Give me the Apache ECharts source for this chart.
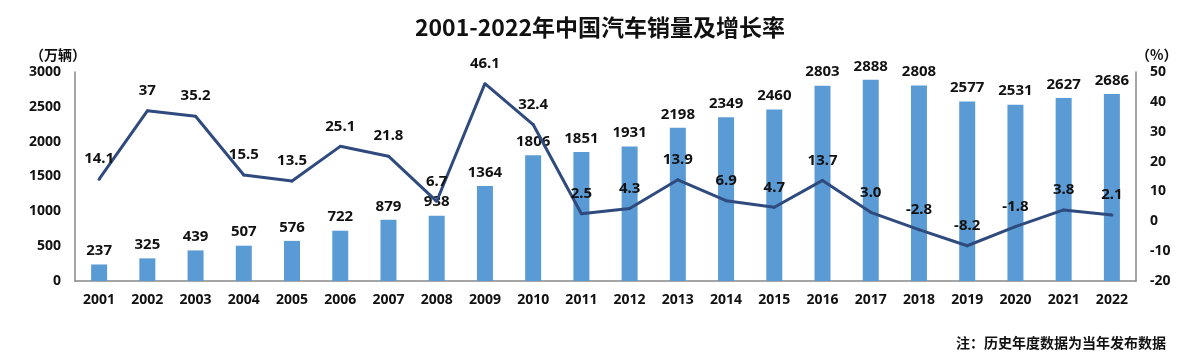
<!DOCTYPE html>
<html>
<head>
<meta charset="utf-8">
<script src="https://cdn.jsdelivr.net/npm/echarts@6/dist/echarts.min.js"></script>
<style>
html,body{margin:0;padding:0;background:#fff;}
#c{width:1200px;height:362px;}
</style>
</head>
<body>
<div id="c"></div>
<script>
var years = ['2001','2002','2003','2004','2005','2006','2007','2008','2009','2010','2011','2012','2013','2014','2015','2016','2017','2018','2019','2020','2021','2022'];
var sales = [237,325,439,507,576,722,879,938,1364,1806,1851,1931,2198,2349,2460,2803,2888,2808,2577,2531,2627,2686];
var growth = [14.1,37,35.2,15.5,13.5,25.1,21.8,6.7,46.1,32.4,2.5,4.3,13.9,6.9,4.7,13.7,3.0,-2.8,-8.2,-1.8,3.8,2.1];
var growthLabels = ['14.1','37','35.2','15.5','13.5','25.1','21.8','6.7','46.1','32.4','2.5','4.3','13.9','6.9','4.7','13.7','3.0','-2.8','-8.2','-1.8','3.8','2.1'];
var leftTicks = [0, 3000, 500];
var rightTicks = [-20, 50, 10];

var FONT = '"Noto Sans", "Noto Sans CJK SC", sans-serif';
var chart = echarts.init(document.getElementById('c'), null, {renderer:'canvas'});
chart.setOption({
  backgroundColor:'#fff',
  animation:false,
  title:{
    text:'2001-2022年中国汽车销量及增长率',
    left:'center', top:11,
    textStyle:{fontFamily:'"Noto Sans CJK SC", sans-serif', fontWeight:'bold', fontSize:23, color:'#111'}
  },
  graphic:[
    {type:'text', left:30, top:48, style:{text:'（万辆）', font:'bold 14px "Noto Sans CJK SC"', fill:'#111'}},
    {type:'text', left:1136, top:48, style:{text:'（%）', font:'bold 14px "Noto Sans CJK SC"', fill:'#111'}},
    {type:'text', right:34, top:336, style:{text:'注：历史年度数据为当年发布数据', font:'bold 14px "Noto Sans CJK SC"', fill:'#111'}}
  ],
  grid:{left:75, right:64, top:72, bottom:81},
  xAxis:{
    type:'category', data:years,
    axisLine:{show:true, lineStyle:{color:'#888', width:1.5}},
    axisTick:{show:false},
    axisLabel:{margin:12, fontFamily:FONT, fontWeight:'bold', fontSize:14, color:'#111'}
  },
  yAxis:[
    {type:'value', min:leftTicks[0], max:leftTicks[1], interval:leftTicks[2],
     axisLine:{show:true, lineStyle:{color:'#888', width:1.5}}, axisTick:{show:false}, splitLine:{show:false},
     axisLabel:{margin:14, fontFamily:FONT, fontWeight:'bold', fontSize:14, color:'#111', formatter:function(v){return String(v);}}},
    {type:'value', min:rightTicks[0], max:rightTicks[1], interval:rightTicks[2],
     axisLine:{show:true, lineStyle:{color:'#888', width:1.5}}, axisTick:{show:false}, splitLine:{show:false},
     axisLabel:{margin:14, fontFamily:FONT, fontWeight:'bold', fontSize:14, color:'#111', formatter:function(v){return String(v);}}}
  ],
  series:[
    {type:'bar', data:sales, barWidth:16, yAxisIndex:0, z:2,
     itemStyle:{color:'#5B9BD5'},
     labelLayout:{hideOverlap:false},
     label:{show:true, position:'top', distance:6, fontFamily:FONT, fontWeight:'bold', fontSize:15, color:'#111'}},
    {type:'line', data:growth, yAxisIndex:1, symbol:'circle', symbolSize:3, showSymbol:true, z:5,
     itemStyle:{color:'#2F4B7E'},
     lineStyle:{color:'#2F4B7E', width:3},
     labelLayout:{hideOverlap:false},
     label:{show:true, position:'top', distance:11, fontFamily:FONT, fontWeight:'bold', fontSize:15, color:'#111',
       formatter:function(p){return growthLabels[p.dataIndex];}}}
  ]
});
</script>
</body>
</html>
